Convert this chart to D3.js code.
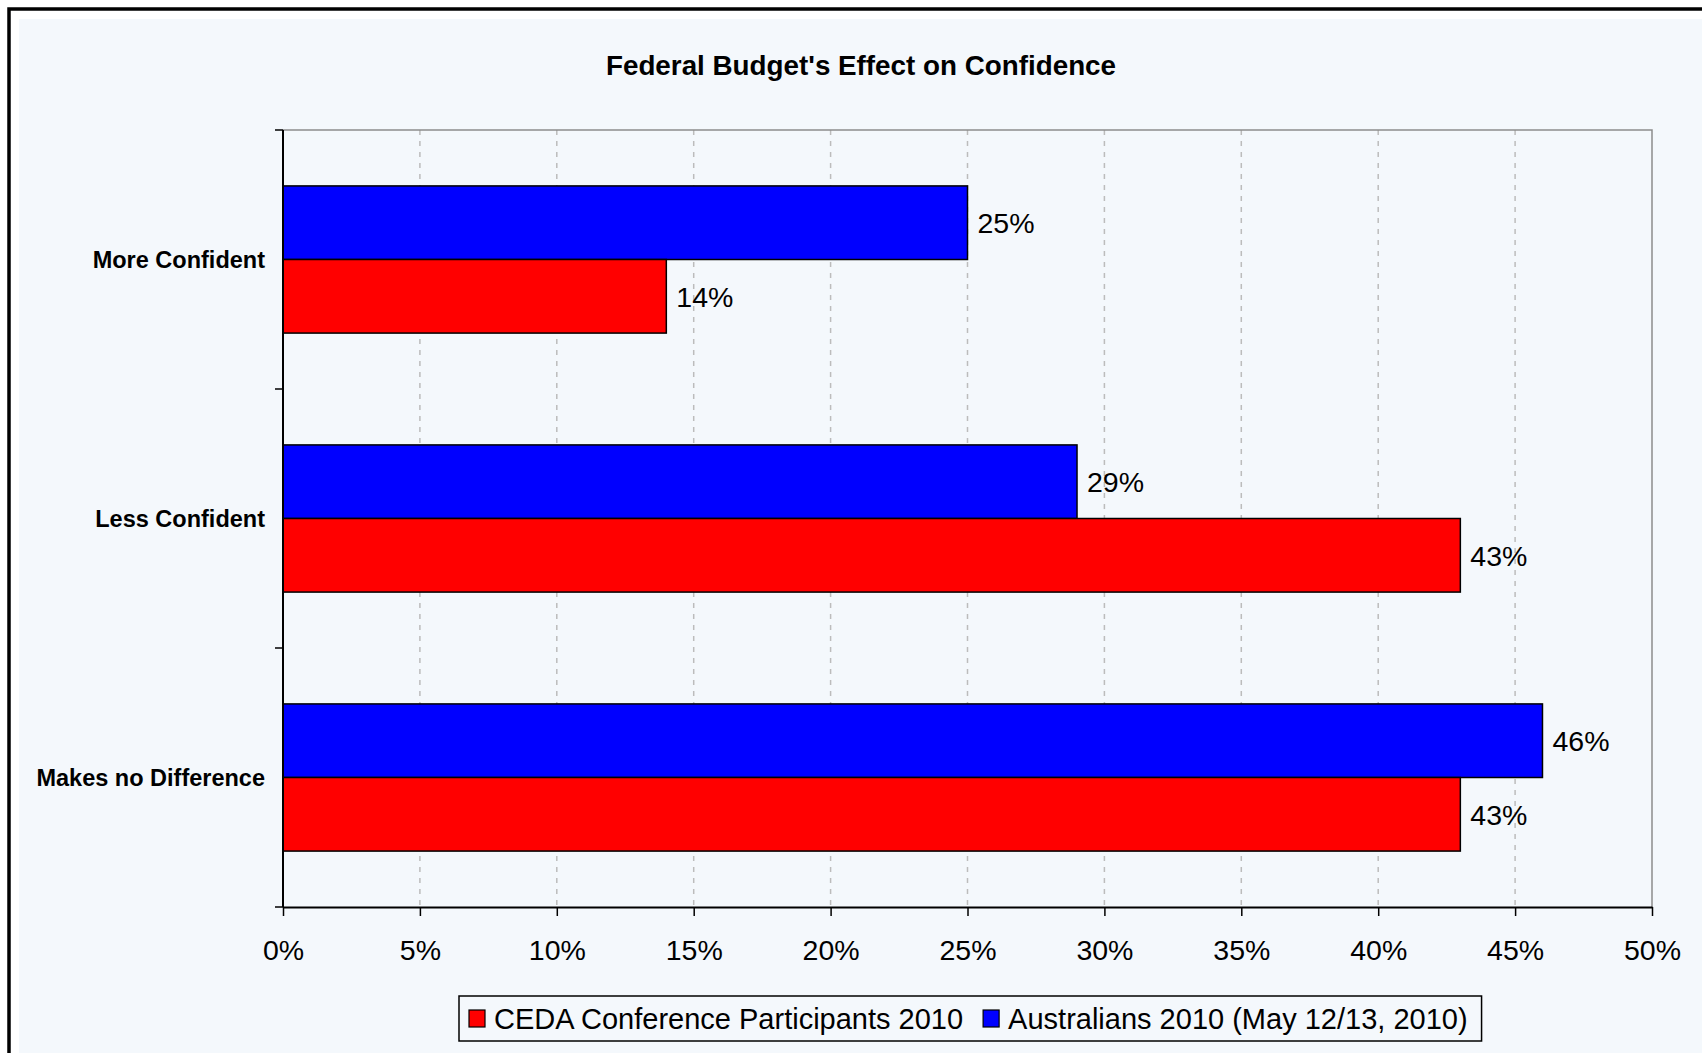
<!DOCTYPE html>
<html>
<head>
<meta charset="utf-8">
<script src="https://cdn.jsdelivr.net/npm/d3@7"></script>
<style>
  html, body { margin: 0; padding: 0; background: #fff; overflow: hidden; }
  svg { display: block; font-family: "Liberation Sans", Arial, sans-serif; }
  .cat-label { font-weight: bold; font-size: 23.5px; }
</style>
</head>
<body>
<svg id="chart" width="1702" height="1053"></svg>
<script>
// chart data
var categories = ["More Confident", "Less Confident", "Makes no Difference"];
var seriesNames = ["Australians 2010 (May 12/13, 2010)", "CEDA Conference Participants 2010"];
var australians = [25, 29, 46];
var ceda = [14, 43, 43];
var xTicks = [0, 5, 10, 15, 20, 25, 30, 35, 40, 45, 50];
var legendOrder = ["CEDA Conference Participants 2010", "Australians 2010 (May 12/13, 2010)"];

var colors = {
	"CEDA Conference Participants 2010": "#ff0000",
	"Australians 2010 (May 12/13, 2010)": "#0000ff"
};

var svg = d3.select("#chart"),
	margin = {top: 130, right: 50, bottom: 146, left: 283},
	width = +svg.attr("width") - margin.left - margin.right,
	height = +svg.attr("height") - margin.top - margin.bottom;

// outer frame: black border running off the right and bottom, light panel inside
svg.append("rect")
	.attr("x", 9).attr("y", 9)
	.attr("width", 1760).attr("height", 1100)
	.attr("fill", "#fff")
	.attr("stroke", "#000")
	.attr("stroke-width", 3.5);
svg.append("rect")
	.attr("x", 19).attr("y", 19)
	.attr("width", 1740).attr("height", 1090)
	.attr("fill", "#f4f8fc");

svg.append("text")
	.attr("x", 861).attr("y", 75)
	.attr("text-anchor", "middle")
	.style("font-weight", "bold")
	.style("font-size", "27.8px")
	.text("Federal Budget's Effect on Confidence");

var rows = categories.map(function(c, i) {
	return {category: c, values: [
		{name: seriesNames[0], value: australians[i]},
		{name: seriesNames[1], value: ceda[i]}
	]};
});

var x = d3.scaleLinear().domain([0, 50]).range([0, width]);
var y0 = d3.scaleBand().domain(categories).range([0, height]);
var y1 = d3.scaleBand().domain(seriesNames).range([0, y0.bandwidth()])
	.paddingInner(0).paddingOuter(0.76);

var g = svg.append("g")
	.attr("transform", "translate(" + margin.left + "," + margin.top + ")");

// dashed vertical gridlines
g.selectAll(".grid")
	.data(xTicks.slice(1, -1))
	.enter().append("line")
	.attr("x1", function(d) { return x(d); })
	.attr("x2", function(d) { return x(d); })
	.attr("y1", 0).attr("y2", height)
	.attr("stroke", "#bcbcbc")
	.attr("stroke-width", 1.5)
	.attr("stroke-dasharray", "5,6");

// plot border (top and right in grey)
g.append("path")
	.attr("d", "M0,0H" + width + "V" + height)
	.attr("fill", "none")
	.attr("stroke", "#8c8c8c")
	.attr("stroke-width", 1.5);

// bars
var groups = g.selectAll(".cat")
	.data(rows)
	.enter().append("g")
	.attr("transform", function(d) { return "translate(0," + y0(d.category) + ")"; });

groups.selectAll("rect")
	.data(function(d) { return d.values; })
	.enter().append("rect")
	.attr("x", 0)
	.attr("y", function(d) { return y1(d.name); })
	.attr("width", function(d) { return x(d.value); })
	.attr("height", y1.bandwidth())
	.attr("fill", function(d) { return colors[d.name]; })
	.attr("stroke", "#000")
	.attr("stroke-width", 1.5);

groups.selectAll(".val")
	.data(function(d) { return d.values; })
	.enter().append("text")
	.attr("x", function(d) { return x(d.value) + 10; })
	.attr("y", function(d) { return y1(d.name) + y1.bandwidth() / 2; })
	.attr("dy", "0.36em")
	.style("font-size", "28.5px")
	.text(function(d) { return d.value + "%"; });

// x axis
var xAxis = g.append("g")
	.attr("transform", "translate(0," + height + ")")
	.call(d3.axisBottom(x).tickValues(xTicks).tickSize(9).tickSizeOuter(0)
		.tickFormat(function(d) { return d + "%"; }));
xAxis.select(".domain").attr("stroke", "#000").attr("stroke-width", 2);
xAxis.selectAll(".tick line").attr("stroke", "#000").attr("stroke-width", 1.5);
xAxis.selectAll(".tick text")
	.attr("y", 33)
	.attr("dy", "0.71em")
	.style("font-size", "28.5px")
	.style("font-family", "'Liberation Sans', Arial, sans-serif")
	.attr("fill", "#000");

// y axis: ticks at category boundaries
var yAxis = g.append("g");
yAxis.append("line")
	.attr("x1", 0).attr("x2", 0).attr("y1", 0).attr("y2", height)
	.attr("stroke", "#000").attr("stroke-width", 2);
yAxis.selectAll(".ytick")
	.data(categories.concat(["end"]))
	.enter().append("line")
	.attr("x1", -8).attr("x2", 0)
	.attr("y1", function(d, i) { return i * y0.step(); })
	.attr("y2", function(d, i) { return i * y0.step(); })
	.attr("stroke", "#000").attr("stroke-width", 1.5);
yAxis.selectAll(".cat-label")
	.data(categories)
	.enter().append("text")
	.attr("class", "cat-label")
	.attr("x", -18)
	.attr("y", function(d) { return y0(d) + y0.bandwidth() / 2; })
	.attr("dy", "0.36em")
	.attr("text-anchor", "end")
	.text(function(d) { return d; });

// legend
var legend = svg.append("g").attr("transform", "translate(459,996)");
var box = legend.append("rect")
	.attr("height", 45)
	.attr("fill", "#f4f8fc")
	.attr("stroke", "#000")
	.attr("stroke-width", 1.5);
var cx = 10;
legendOrder.forEach(function(name) {
	legend.append("rect")
		.attr("x", cx).attr("y", 14)
		.attr("width", 16).attr("height", 17)
		.attr("fill", colors[name])
		.attr("stroke", "#000")
		.attr("stroke-width", 1.2);
	var t = legend.append("text")
		.attr("x", cx + 25).attr("y", 22.5)
		.attr("dy", "0.36em")
		.style("font-size", "29px")
		.text(name);
	cx += 25 + t.node().getComputedTextLength() + 20;
});
box.attr("width", cx - 20 + 14);
</script>
</body>
</html>
